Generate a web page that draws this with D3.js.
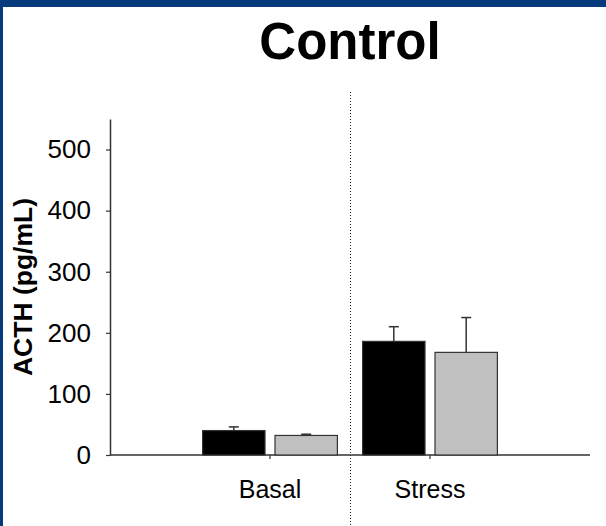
<!DOCTYPE html>
<html>
<head>
<meta charset="utf-8">
<script src="https://cdn.jsdelivr.net/npm/d3@7"></script>
<style>
  html, body { margin: 0; padding: 0; background: #fff; }
  svg { display: block; }
</style>
</head>
<body>
<svg id="chart" width="606" height="526"></svg>
<script>
// ACTH levels, control group
const categories = ["Basal", "Stress"];
const seriesBlack = [40, 186];
const seriesBlackErr = [6, 24];
const seriesGray = [32, 168];
const seriesGrayErr = [2, 57];
const yTicks = [0, 100, 200, 300, 400, 500];
const title = "Control";
const yLabel = "ACTH (pg/mL)";

const W = 606, H = 526;
const svg = d3.select("#chart");
const font = "'Liberation Sans', Arial, Helvetica, sans-serif";
const axisColor = "#333";

// frame bands
svg.append("rect").attr("x", 0).attr("y", 0).attr("width", W).attr("height", H).attr("fill", "#fff");
svg.append("rect").attr("x", 0).attr("y", 0).attr("width", W).attr("height", 7).attr("fill", "#063a7a");
svg.append("rect").attr("x", 0).attr("y", 0).attr("width", 3).attr("height", H).attr("fill", "#063a7a");

// scales: categories sit at positions 1 and 2 of a 0..3 axis
const x = d3.scaleLinear().domain([0, 3]).range([110, 590]);
const y = d3.scaleLinear().domain([0, 550]).range([455, 119]);
const step = x(1) - x(0);
const barW = step * 0.39;
const gap = step * 0.0625;

// title
svg.append("text")
  .attr("x", x(1.5)).attr("y", 58.5)
  .attr("text-anchor", "middle")
  .attr("font-family", font).attr("font-weight", "bold").attr("font-size", 51)
  .attr("fill", "#000")
  .text(title);

// dotted divider between groups
svg.append("line")
  .attr("x1", x(1.5) + 0.5).attr("x2", x(1.5) + 0.5)
  .attr("y1", 92).attr("y2", H)
  .attr("stroke", "#222").attr("stroke-width", 1)
  .attr("stroke-dasharray", "1,2");

// y axis
const yAxis = svg.append("g")
  .attr("transform", `translate(${x(0)},0)`)
  .call(d3.axisLeft(y).tickValues(yTicks).tickSize(4).tickPadding(15).tickSizeOuter(0));
yAxis.select(".domain").attr("stroke", axisColor).attr("stroke-width", 1.5);
yAxis.selectAll(".tick line").attr("stroke", axisColor).attr("stroke-width", 1.2);
yAxis.selectAll(".tick text")
  .attr("font-family", font).attr("font-size", 26).attr("fill", "#000");

// x axis baseline and category ticks
svg.append("line")
  .attr("x1", x(0)).attr("x2", x(3))
  .attr("y1", y(0)).attr("y2", y(0))
  .attr("stroke", axisColor).attr("stroke-width", 1.5);

const groups = svg.selectAll("g.cat")
  .data(categories)
  .enter().append("g").attr("class", "cat");

groups.append("line")
  .attr("x1", (d, i) => x(i + 1)).attr("x2", (d, i) => x(i + 1))
  .attr("y1", y(0)).attr("y2", y(0) + 4)
  .attr("stroke", axisColor).attr("stroke-width", 1.2);

groups.append("text")
  .attr("x", (d, i) => x(i + 1)).attr("y", 497.5)
  .attr("text-anchor", "middle")
  .attr("font-family", font).attr("font-size", 25).attr("fill", "#000")
  .text(d => d);

// bars with upward error bars
const series = [
  { values: seriesBlack, errs: seriesBlackErr, fill: "#000", offset: -(gap / 2 + barW / 2) },
  { values: seriesGray, errs: seriesGrayErr, fill: "#c0c0c0", offset: (gap / 2 + barW / 2) }
];

series.forEach(s => {
  const g = svg.append("g");
  s.values.forEach((v, i) => {
    const cx = x(i + 1) + s.offset;
    const top = v + s.errs[i];
    g.append("line")
      .attr("x1", cx).attr("x2", cx)
      .attr("y1", y(v)).attr("y2", y(top))
      .attr("stroke", "#333").attr("stroke-width", 1.5);
    g.append("line")
      .attr("x1", cx - 5).attr("x2", cx + 5)
      .attr("y1", y(top)).attr("y2", y(top))
      .attr("stroke", "#333").attr("stroke-width", 1.5);
    g.append("rect")
      .attr("x", cx - barW / 2).attr("y", y(v))
      .attr("width", barW).attr("height", y(0) - y(v))
      .attr("fill", s.fill)
      .attr("stroke", "#333").attr("stroke-width", 1.2);
  });
});

// y axis title
svg.append("text")
  .attr("transform", `translate(32,${(y(0) + y(550)) / 2}) rotate(-90)`)
  .attr("text-anchor", "middle")
  .attr("font-family", font).attr("font-weight", "bold").attr("font-size", 26.5)
  .attr("fill", "#000")
  .text(yLabel);
</script>
</body>
</html>
